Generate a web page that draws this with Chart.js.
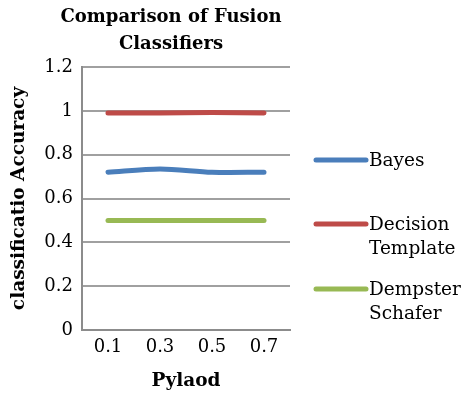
<!DOCTYPE html>
<html>
<head>
<meta charset="utf-8">
<script src="https://cdn.jsdelivr.net/npm/chart.js@4/dist/chart.umd.min.js"></script>
<style>
  html, body { margin: 0; padding: 0; background: #fff; }
  #wrap { width: 471px; height: 393px; position: relative; }
</style>
</head>
<body>
<div id="wrap"><canvas id="fusionChart" width="471" height="393"></canvas></div>
<script>
const payloads = ['0.1', '0.3', '0.5', '0.7'];
const bayes = [0.72, 0.735, 0.72, 0.72];
const decisionTemplate = [0.99, 0.99, 0.992, 0.99];
const dempsterSchafer = [0.5, 0.5, 0.5, 0.5];
const yTicks = [0, 0.2, 0.4, 0.6, 0.8, 1, 1.2];

const serif = '"DejaVu Serif", "Liberation Serif", serif';

// title + legend drawn by hand so they can sit like the Excel original
const decorPlugin = {
    id: 'decor',
    afterDraw(chart) {
        const ctx = chart.ctx;
        ctx.save();
        ctx.fillStyle = '#000';
        ctx.textAlign = 'center';
        ctx.textBaseline = 'middle';
        ctx.font = 'bold 18px ' + serif;
        ctx.fillText('Comparison of Fusion', 171, 17);
        ctx.fillText('Classifiers', 171, 44);

        const rows = [
            { ds: 0, lines: ['Bayes'], y: 160 },
            { ds: 1, lines: ['Decision', 'Template'], y: 224 },
            { ds: 2, lines: ['Dempster', 'Schafer'], y: 289 }
        ];
        ctx.textAlign = 'left';
        ctx.font = '18.5px ' + serif;
        rows.forEach(r => {
            const ds = chart.data.datasets[r.ds];
            ctx.strokeStyle = ds.borderColor;
            ctx.lineWidth = 5;
            ctx.lineCap = 'round';
            ctx.beginPath();
            ctx.moveTo(316, r.y);
            ctx.lineTo(366, r.y);
            ctx.stroke();
            r.lines.forEach((t, i) => ctx.fillText(t, 369, r.y + 1 + i * 24));
        });
        ctx.restore();
    }
};

const ctx = document.getElementById('fusionChart').getContext('2d');
new Chart(ctx, {
    type: 'line',
    data: {
        labels: payloads,
        datasets: [
            { label: 'Bayes', data: bayes, borderColor: '#4a7ebb' },
            { label: 'Decision Template', data: decisionTemplate, borderColor: '#be4b48' },
            { label: 'Dempster Schafer', data: dempsterSchafer, borderColor: '#98b954' }
        ].map(d => Object.assign(d, {
            borderWidth: 5,
            borderCapStyle: 'round',
            borderJoinStyle: 'round',
            pointRadius: 0,
            tension: 0.3,
            fill: false
        }))
    },
    options: {
        responsive: false,
        animation: false,
        layout: { padding: { top: 67, right: 181, left: 0, bottom: 0 } },
        plugins: {
            legend: { display: false },
            title: { display: false },
            tooltip: { enabled: false }
        },
        scales: {
            x: {
                offset: true,
                grid: { display: false, drawTicks: false },
                border: { color: '#8c8c8c', width: 2 },
                ticks: { color: '#000', font: { family: serif, size: 18 }, padding: 7 },
                title: {
                    display: true,
                    text: 'Pylaod',
                    color: '#000',
                    font: { family: serif, size: 18.5, weight: 'bold' },
                    padding: { top: 0, bottom: 1 }
                },
                afterFit(scale) { scale.height = 63; }
            },
            y: {
                min: 0,
                max: 1.2,
                afterBuildTicks(scale) { scale.ticks = yTicks.map(v => ({ value: v })); },
                grid: { color: '#a0a0a0', lineWidth: 2, drawTicks: false },
                border: { color: '#8c8c8c', width: 2 },
                ticks: {
                    color: '#000',
                    font: { family: serif, size: 18 },
                    padding: 9,
                    callback: v => String(v)
                },
                title: {
                    display: true,
                    text: 'classificatio Accuracy',
                    color: '#000',
                    font: { family: serif, size: 18.5, weight: 'bold' },
                    padding: { top: 8, bottom: 0 }
                },
                afterFit(scale) { scale.width = 82; }
            }
        }
    },
    plugins: [decorPlugin]
});
</script>
</body>
</html>
